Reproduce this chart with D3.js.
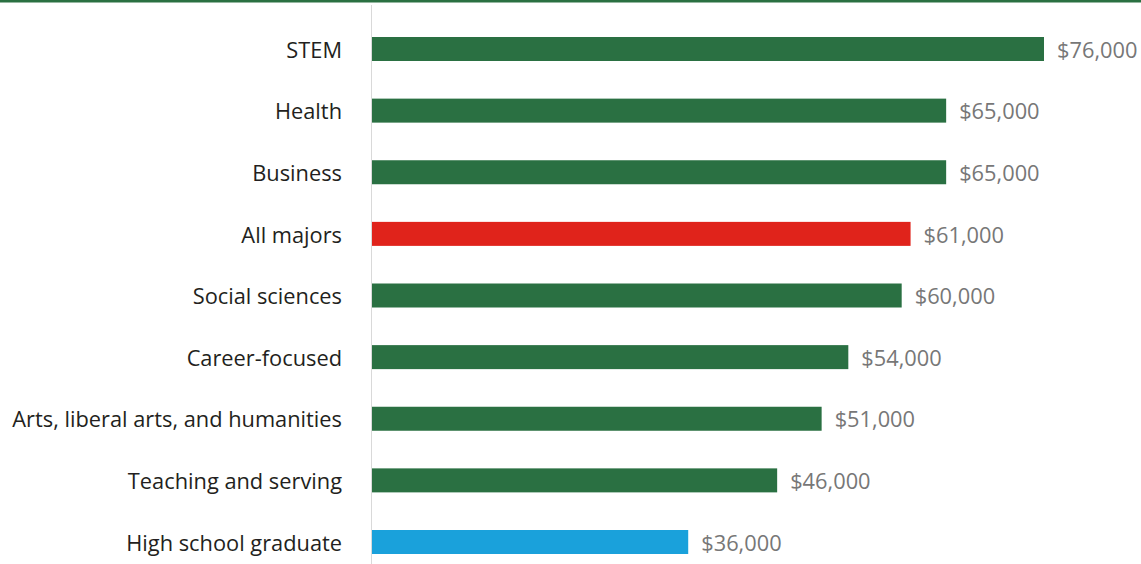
<!DOCTYPE html>
<html lang="en">
<head>
<meta charset="utf-8">
<title>Earnings by major</title>
<script src="https://d3js.org/d3.v7.min.js"></script>
<style>
  body { margin: 0; background: #fff; }
  svg { display: block; }
  .cat { font-family: "Open Sans", sans-serif; font-size: 21.8px; fill: #231f20; }
  .val { font-family: "Open Sans", sans-serif; font-size: 21.8px; fill: #777; }
</style>
</head>
<body>
<div id="chart"></div>
<script>
var categories = ["STEM", "Health", "Business", "All majors", "Social sciences",
                  "Career-focused", "Arts, liberal arts, and humanities",
                  "Teaching and serving", "High school graduate"];
var earnings = [76000, 65000, 65000, 61000, 60000, 54000, 51000, 46000, 36000];
var barColors = ["#2a7042", "#2a7042", "#2a7042", "#e0231b", "#2a7042",
                 "#2a7042", "#2a7042", "#2a7042", "#1aa1db"];

var W = 1141, H = 564;
var axisX = 371;

var svg = d3.select("#chart").append("svg")
    .attr("width", W).attr("height", H);

var x = d3.scaleLinear().domain([0, 76000]).range([368, 1044]);
var y = d3.scalePoint().domain(categories).range([49, 542]);
var barH = 24;

svg.append("defs").append("clipPath").attr("id", "plot")
  .append("rect").attr("x", axisX + 1).attr("y", 0).attr("width", W).attr("height", H);

// top rule
svg.append("rect").attr("x", 0).attr("y", 0).attr("width", W).attr("height", 2.5)
   .attr("fill", "#2a7042");

// vertical axis line
svg.append("line")
   .attr("x1", axisX + 0.5).attr("x2", axisX + 0.5)
   .attr("y1", 5).attr("y2", H)
   .attr("stroke", "#d9d9d9").attr("stroke-width", 1);

svg.append("g").attr("clip-path", "url(#plot)")
  .selectAll("rect").data(earnings).enter().append("rect")
    .attr("x", x(0))
    .attr("y", function(d, i) { return y(categories[i]) - barH / 2; })
    .attr("width", function(d) { return x(d) - x(0); })
    .attr("height", barH)
    .attr("fill", function(d, i) { return barColors[i]; });

svg.selectAll(".cat").data(categories).enter().append("text")
    .attr("class", "cat")
    .attr("x", 342)
    .attr("y", function(d) { return y(d); })
    .attr("dy", "0.4em")
    .attr("text-anchor", "end")
    .text(function(d) { return d; });

svg.selectAll(".val").data(earnings).enter().append("text")
    .attr("class", "val")
    .attr("x", function(d) { return x(d) + 13; })
    .attr("y", function(d, i) { return y(categories[i]); })
    .attr("dy", "0.4em")
    .text(function(d) { return "$" + d3.format(",")(d); });
</script>
</body>
</html>
